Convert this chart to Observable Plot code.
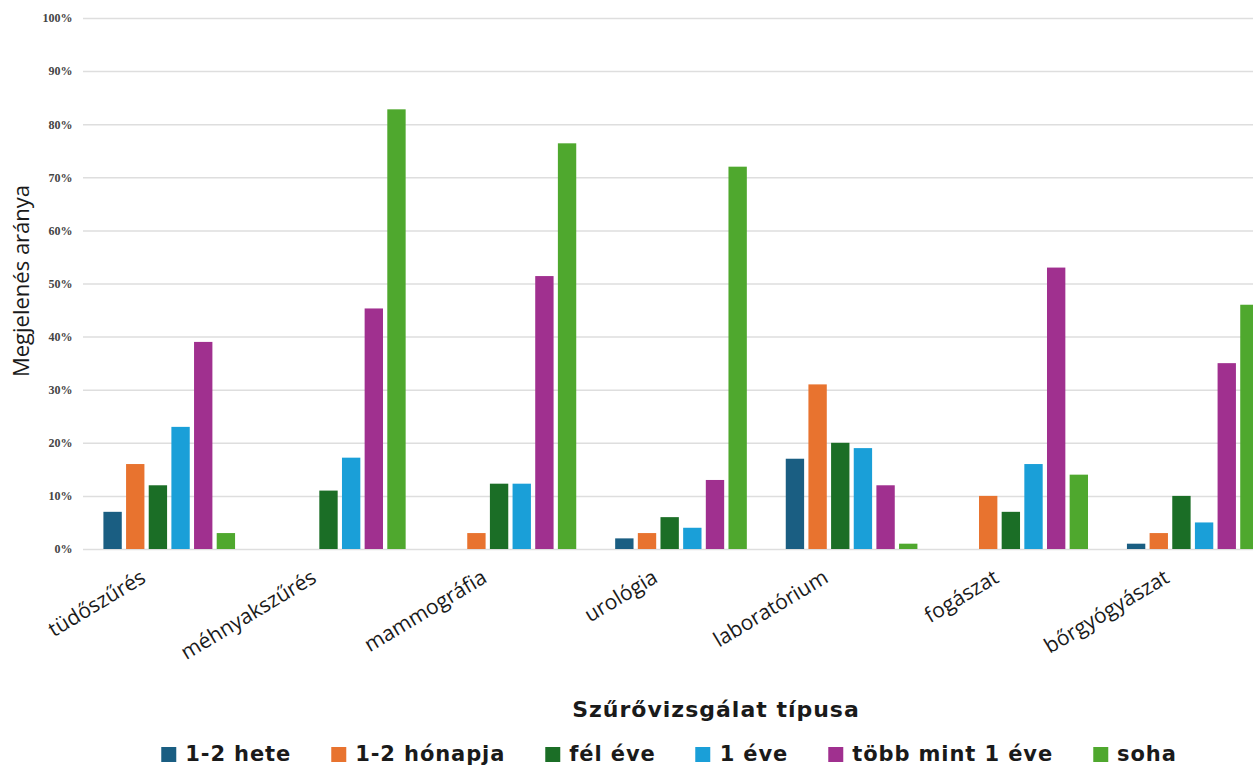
<!DOCTYPE html>
<html><head><meta charset="utf-8">
<script src="https://cdn.jsdelivr.net/npm/d3@7"></script>
<script src="https://cdn.jsdelivr.net/npm/@observablehq/plot@0.6"></script>
<style>
body{margin:0;background:#fff;}
#wrap{width:1253px;height:769px;overflow:hidden;position:relative;font-family:"Open Sans",sans-serif;color:#1a1a1a;background:#fff;}
#wrap svg{max-width:none !important;}
#grid,#chart{position:absolute;left:0;top:0;}
#xtitle{position:absolute;left:716px;top:697px;transform:translateX(-50%);font-family:"DejaVu Sans",sans-serif;font-weight:700;font-size:22px;letter-spacing:1px;white-space:nowrap;color:#1a1a1a;}
#legend{position:absolute;left:669px;top:742px;transform:translateX(-50%);display:flex;gap:40px;white-space:nowrap;font-family:"DejaVu Sans",sans-serif;font-weight:700;font-size:21px;letter-spacing:0.9px;color:#1a1a1a;}
#legend .it{display:flex;align-items:center;gap:9px;}
#legend .sw{width:15px;height:15px;display:inline-block;}
</style></head>
<body><div id="wrap"><div id="grid"></div><div id="chart"></div><div id="xtitle"></div><div id="legend"></div></div>
<script>
const categories = ["tüdőszűrés","méhnyakszűrés","mammográfia","urológia","laboratórium","fogászat","bőrgyógyászat"];
const series = ["1-2 hete","1-2 hónapja","fél éve","1 éve","több mint 1 éve","soha"];
const colors = ["#1a5e82","#e8732f","#1b6e26","#1a9fd8","#a0308f","#4fa82e"];
const hete    = [7, null, null, 2, 17, null, 1];
const honapja = [16, null, 3, 3, 31, 10, 3];
const felEve  = [12, 11, 12.3, 6, 20, 7, 10];
const egyEve  = [23, 17.2, 12.3, 4, 19, 16, 5];
const tobb    = [39, 45.3, 51.4, 13, 12, 53, 35];
const soha    = [3, 82.8, 76.4, 72, 1, 14, 46];
const yTicks = [0,10,20,30,40,50,60,70,80,90,100];
const yLabel = "Megjelenés aránya";
const xTitle = "Szűrővizsgálat típusa";

const seriesValues = [hete, honapja, felEve, egyEve, tobb, soha];
const data = [];
categories.forEach((c, i) => series.forEach((s, j) => {
  const v = seriesValues[j][i];
  if (v != null) data.push({cat: c, series: s, value: v});
}));

const dims = {width: 1290, height: 690, marginLeft: 83, marginRight: 11, marginTop: 18, marginBottom: 141};

const grid = Plot.plot({
  ...dims,
  y: {domain: [0, 100], axis: null},
  style: {fontFamily: "Open Sans, sans-serif", background: "transparent"},
  marks: [
    Plot.ruleY(yTicks, {y: d => d, stroke: "#dedede", strokeWidth: 1.5}),
    Plot.text(yTicks, {y: d => d, text: d => d + "%", frameAnchor: "left", textAnchor: "end", dx: -11,
      fontFamily: "Liberation Serif", fontWeight: "bold", fontSize: 12, fill: "#444"}),
    Plot.text([yLabel], {text: d => d, frameAnchor: "left", textAnchor: "middle", rotate: -90, dx: -62, dy: -3,
      fontSize: 22, letterSpacing: 2.2, fill: "#1a1a1a"})
  ]
});
document.getElementById("grid").appendChild(grid);

const chart = Plot.plot({
  ...dims,
  fx: {domain: categories, paddingInner: 0.203, paddingOuter: 0.107, round: false, label: null},
  x: {domain: series, paddingInner: 0.19, paddingOuter: 0.095, round: false, axis: null},
  y: {domain: [0, 100], axis: null},
  color: {domain: series, range: colors},
  style: {fontFamily: "Open Sans, sans-serif", background: "transparent"},
  marks: [
    Plot.barY(data, {fx: "cat", x: "series", y: "value", fill: "series"}),
    Plot.axisFx({anchor: "bottom", tickRotate: -31, tickSize: 0, tickPadding: 26, dx: -26, fontSize: 21,
      letterSpacing: 2, fill: "#1a1a1a", label: null})
  ]
});
document.getElementById("chart").appendChild(chart);
document.getElementById("xtitle").textContent = xTitle;
const lg = document.getElementById("legend");
series.forEach((s, j) => {
  const it = document.createElement("div"); it.className = "it";
  const sw = document.createElement("span"); sw.className = "sw"; sw.style.background = colors[j];
  const tx = document.createElement("span"); tx.textContent = s;
  it.appendChild(sw); it.appendChild(tx); lg.appendChild(it);
});
</script></body></html>
